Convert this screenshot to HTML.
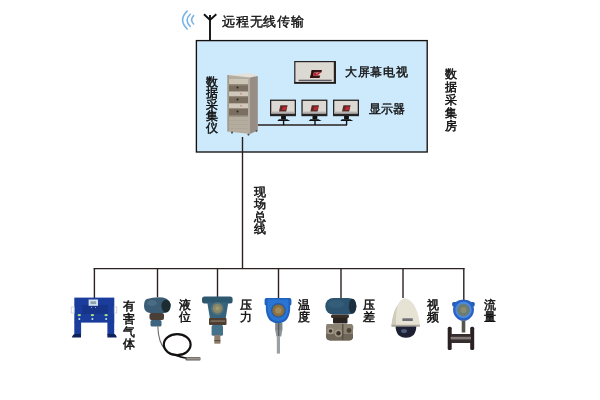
<!DOCTYPE html>
<html><head><meta charset="utf-8">
<style>
html,body{margin:0;padding:0;background:#fff;width:600px;height:400px;overflow:hidden}
body{position:relative;font-family:"Liberation Sans",sans-serif;color:#1a1a1a}
svg{position:absolute;left:0;top:0}
.t{position:absolute;font-size:13px;line-height:13px;white-space:nowrap;font-weight:500;-webkit-text-stroke:0.4px #111;color:#111;transform:translateZ(0)}
.v{position:absolute;font-size:12.3px;width:13px;word-break:break-all;white-space:normal;font-weight:500;-webkit-text-stroke:0.5px #111;color:#111;transform:translateZ(0)}
</style></head><body>
<svg width="600" height="400" viewBox="0 0 600 400">
  <!-- wifi arcs -->
  <g fill="none" stroke="#78b4e4" stroke-width="1.6" stroke-linecap="round">
    <path d="M187.2 11.2 Q178 20 187.2 29"/>
    <path d="M190.2 14.2 Q184 20.2 190.2 26.4"/>
    <path d="M193.6 15.6 Q189.6 19.8 193.6 24"/>
  </g>
  <!-- antenna -->
  <g fill="none" stroke="#111" stroke-width="1.9">
    <path d="M204 14.2 L210 20 L216.3 14.2"/>
    <path d="M210 15 L210 41"/>
  </g>
  <!-- box -->
  <rect x="196.4" y="40.6" width="230.8" height="111.4" fill="#cdeafc" stroke="#150f0f" stroke-width="1.35"/>
  <!-- main bus -->
  <g stroke="#2a2020" stroke-width="1.4" fill="none">
    <path d="M242.5 137 V268.5"/>
    <path d="M93.7 268.6 H464.5"/>
    <path d="M94.4 268 V298"/>
    <path d="M157.5 268 V297"/>
    <path d="M217.5 268 V297"/>
    <path d="M278.5 268 V298"/>
    <path d="M341 268 V299"/>
    <path d="M403 268 V298"/>
    <path d="M463.8 268 V300"/>
    <path d="M257.8 125 H347"/>
  </g>
  <!-- cabinet -->
  <g>
    <polygon points="227.5,75 250.4,73 257.8,76 250,77.5" fill="#e4e0da"/>
    <polygon points="227.5,75 250,77.5 250,134 227.5,131.5" fill="#b4ac9e"/>
    <polygon points="250,77.5 257.8,76 257.8,130.5 250,134" fill="#978d84"/>
    <rect x="227.5" y="75" width="1.2" height="56.5" fill="#9a9286"/>
    <rect x="229" y="79" width="19" height="5.4" fill="#ccc4b4"/>
    <rect x="229" y="84.4" width="19" height="7.2" fill="#7a6e60"/>
    <rect x="229" y="84.4" width="19" height="1" fill="#9a8e80"/>
    <rect x="229" y="91.6" width="19" height="4.6" fill="#d0c8bc"/>
    <rect x="229" y="96.2" width="19" height="7.3" fill="#7a6e60"/>
    <rect x="229" y="96.2" width="19" height="1" fill="#9a8e80"/>
    <rect x="229" y="103.5" width="19" height="4.5" fill="#d0c8bc"/>
    <rect x="229" y="108" width="19" height="7.6" fill="#7a6e60"/>
    <rect x="229" y="108" width="19" height="1" fill="#9a8e80"/>
    <rect x="229" y="116" width="19" height="0.8" fill="#9a9084"/>
    <circle cx="237.5" cy="87.5" r="1" fill="#2a221c"/>
    <circle cx="237.5" cy="99.5" r="1" fill="#2a221c"/>
    <circle cx="237.5" cy="111.5" r="1" fill="#2a221c"/>
    <circle cx="241" cy="93.8" r="0.7" fill="#c86060"/>
    <circle cx="241" cy="105.8" r="0.7" fill="#c86060"/>
    <rect x="229" y="120" width="19" height="0.6" fill="#a8a092"/>
    <rect x="229" y="124" width="19" height="0.6" fill="#a8a092"/>
    <rect x="229" y="128" width="19" height="0.6" fill="#a8a092"/>
    <circle cx="232" cy="132.6" r="1.1" fill="#5a524a"/>
    <circle cx="248.5" cy="134.6" r="1.1" fill="#5a524a"/>
    <circle cx="256.5" cy="131" r="0.9" fill="#5a524a"/>
  </g>
  <!-- big TV -->
  <g>
    <rect x="294.2" y="61" width="41.8" height="22.6" fill="#262222"/>
    <rect x="295.4" y="62.2" width="38.4" height="19.8" fill="#dcd8d2"/>
    <rect x="294.2" y="82" width="41.8" height="1.6" fill="#1e1a1a"/>
    <rect x="298.7" y="79.7" width="33" height="1.5" fill="#5c5a64"/>
    <polygon points="311.8,70 322,70 321.4,72.6 311.2,72.6" fill="#3a1616"/>
    <polygon points="310.6,75.6 320.2,75.6 319.6,78 310,78" fill="#3a1616"/>
    <polygon points="311.8,70 314.4,70 312.6,78 310,78" fill="#2a1010"/>
    <polygon points="318.6,72.6 321.2,72.6 317.2,75.6 314.6,75.6" fill="#d01828"/>
    <polygon points="313.6,72.6 316.6,72.6 316,75.6 313,75.6" fill="#b82030"/>
  </g>
  <!-- monitors -->
  <g id="mon">
    <rect x="270" y="99.6" width="26" height="16.6" fill="#262424"/>
    <rect x="271.3" y="100.9" width="23.4" height="12.6" fill="#dcd9d4"/>
    <rect x="271.3" y="111.6" width="23.4" height="1.9" fill="#b4b2b0"/>
    <polygon points="280.4,105.3 287.6,105.3 286.2,111.6 279,111.6" fill="#5a2a26"/>
    <polygon points="283,106.8 287,106.8 285.6,110 281.8,110" fill="#c02632"/>
    <rect x="281.1" y="116" width="4.8" height="3.4" fill="#111"/>
    <polygon points="278.9,119.2 287.1,119.2 290.3,121 277.3,121" fill="#111"/>
    <rect x="282.9" y="120.5" width="1.4" height="4.5" fill="#111"/>
  </g>
  <use href="#mon" x="31.4"/>
  <use href="#mon" x="63"/>

  <!-- gas detector -->
  <g>
    <rect x="74.3" y="297.6" width="40" height="25" fill="#1a3c9c"/>
    <rect x="82" y="305" width="26" height="9" fill="#163488"/>
    <rect x="74.3" y="322" width="6.8" height="13" fill="#1a3c9c"/>
    <rect x="107.4" y="322" width="6.8" height="13" fill="#1a3c9c"/>
    <path d="M71.8 337.6 Q73 334 75 334 L81 334 L81 337.6Z" fill="#0f2258"/>
    <path d="M107.4 337.6 L107.4 334 L114 334 Q116 334 116.8 337.6Z" fill="#0f2258"/>
    <rect x="88.6" y="299.5" width="9.4" height="6.3" fill="#d4e2ea"/>
    <rect x="90.5" y="301.3" width="5.6" height="2.8" fill="#8aa0ac"/>
    <rect x="91" y="307" width="1" height="1" fill="#9ab"/>
    <rect x="95" y="307" width="1" height="1" fill="#9ab"/>
    <ellipse cx="79.3" cy="315.1" rx="1.7" ry="1.2" fill="#a8e080"/>
    <ellipse cx="92.4" cy="315.1" rx="1.7" ry="1.2" fill="#a8e080"/>
    <ellipse cx="106.1" cy="315.1" rx="1.7" ry="1.2" fill="#a8e080"/>
    <circle cx="79.3" cy="318.9" r="1" fill="#bfe6f0"/>
    <circle cx="92.4" cy="318.9" r="1" fill="#bfe6f0"/>
    <circle cx="106.1" cy="318.9" r="1" fill="#bfe6f0"/>
    <rect x="71.2" y="307" width="3" height="6" fill="none" stroke="#c8ccd4" stroke-width="0.8"/>
    <rect x="114.3" y="307" width="2.5" height="6" fill="none" stroke="#c8ccd4" stroke-width="0.8"/>
  </g>
  <!-- level transmitter -->
  <g>
    <path d="M147 299 Q155 296.5 163 297.5 L166 298.5 Q171 301 170.5 306 Q170 312 165 313 L150 313 Q144 312 144 306 Q144 300 147 299Z" fill="#3a5c74"/>
    <ellipse cx="166" cy="306" rx="4.6" ry="6.3" fill="#1c2c30"/>
    <ellipse cx="152" cy="303" rx="5" ry="3" fill="#4a6c84"/>
    <rect x="149.5" y="313" width="14.5" height="7" rx="2" fill="#4a3e36"/>
    <rect x="150.5" y="320" width="11" height="6.5" rx="1.5" fill="#3e6480"/>
    <path d="M157.8 326.5 Q158.5 343 165 349" fill="none" stroke="#6a6a6a" stroke-width="1.1"/>
    <ellipse cx="177.2" cy="344.6" rx="13.4" ry="10.5" fill="none" stroke="#141010" stroke-width="2.2"/>
    <path d="M175 355 Q181 357.5 187 358.3" fill="none" stroke="#111" stroke-width="1.6"/>
    <rect x="185.5" y="357" width="15" height="3.4" rx="1" fill="#5e5a56"/>
    <rect x="187" y="357.6" width="13" height="2" fill="#9a9692"/>
  </g>
  <!-- pressure transmitter -->
  <g>
    <rect x="202" y="296.4" width="30.6" height="7" rx="2.5" fill="#2e5870"/>
    <polygon points="207.3,302.5 228.3,302.5 225.6,319 210,319" fill="#36647e"/>
    <circle cx="217.4" cy="308.6" r="6.3" fill="#5a7478"/>
    <circle cx="217.4" cy="308.6" r="4.6" fill="#8c8866"/>
    <circle cx="217.4" cy="308.6" r="2" fill="#a09c78"/>
    <rect x="209" y="318" width="17.5" height="7" rx="1" fill="#4e3e32"/>
    <rect x="210.5" y="320.3" width="14.5" height="1.6" fill="#7e6e5a"/>
    <rect x="211.6" y="325" width="11.4" height="10.8" rx="1.5" fill="#44728a"/>
    <rect x="214.3" y="335" width="6.1" height="8.7" fill="#8e7e6c"/>
    <rect x="214.3" y="340" width="6.1" height="1.2" fill="#5e5044"/>
  </g>
  <!-- temperature -->
  <g>
    <path d="M266.3 298 H289.7 Q291.4 298 291.4 300 V304.5 L290.2 305.5 Q290.6 323.2 278 323.2 Q265.4 323.2 265.8 305.5 L264.6 304.5 V300 Q264.6 298 266.3 298Z" fill="#1f62bc"/>
    <path d="M267.5 299.5 H288.5 V305 Q288.8 321 278 321 Q267.2 321 267.5 305Z" fill="#2a74d4"/>
    <circle cx="278.4" cy="310.4" r="7.3" fill="#2a5a98"/>
    <circle cx="278.4" cy="310.4" r="6" fill="#8a7040"/>
    <circle cx="278.4" cy="310.4" r="3.2" fill="#a08a5a"/>
    <rect x="275.2" y="323" width="7.2" height="7" fill="#7e868a"/>
    <polygon points="275.2,330 282.4,330 281.2,336.5 276.4,336.5" fill="#8e9498"/>
    <rect x="278.2" y="323" width="1" height="13" fill="#4a4e52"/>
    <rect x="276.8" y="336" width="3.2" height="17.6" fill="#9aa0a6"/>
  </g>
  <!-- diff pressure -->
  <g>
    <rect x="325.3" y="298" width="31.1" height="16.5" rx="8" ry="8" fill="#2c5470"/>
    <ellipse cx="336" cy="304" rx="8" ry="4" fill="#3a6480" opacity="0.6"/>
    <ellipse cx="352.5" cy="306.2" rx="3.8" ry="7.5" fill="#1c3040"/>
    <rect x="331" y="314.5" width="18" height="3.5" rx="1.5" fill="#3a302a"/>
    <rect x="333" y="317.5" width="14.5" height="6" rx="1" fill="#2a2420"/>
    <path d="M327 324 L352 324 Q354 326 353 330 L353 338 Q352 340.5 349 340.5 L330 340.5 Q326 340 326 336 L326 327 Q326 324 327 324Z" fill="#8c8272"/>
    <path d="M326 334 L353 334 L353 338 Q352 340.5 349 340.5 L330 340.5 Q326 340 326 336Z" fill="#6e6658"/>
    <circle cx="330.5" cy="331" r="3.2" fill="#a49a88"/>
    <circle cx="330.5" cy="331" r="1.8" fill="#3e3830"/>
    <circle cx="338.5" cy="333.2" r="3.8" fill="#a09684"/>
    <circle cx="338.5" cy="333.2" r="2.2" fill="#3a342c"/>
    <circle cx="349" cy="330.5" r="2.4" fill="#4e4638"/>
    <rect x="342" y="324" width="1.5" height="16" fill="#5a5244"/>
  </g>
  <!-- camera -->
  <g>
    <path d="M404 298.3 C401.5 299.5 399.7 301 397.5 305 C395 309.5 393.4 313.5 392.6 318 C392 321 391.7 323 391.5 326.5 L420 326.5 C419.8 323 419.5 321 418.9 318 C418 313.5 416.5 309.5 414 305 C411 300.5 407.5 298.6 404 298.3Z" fill="#e6e2d4"/>
    <path d="M392.6 318 C393.4 313.5 395 309.5 397.5 305 C396.5 310 395.8 316 396 326.5 L391.5 326.5 C391.7 323 392 321 392.6 318Z" fill="#cfcbbd"/>
    <rect x="391.5" y="324.8" width="28.5" height="1.8" fill="#aaa69a"/>
    <rect x="402.4" y="318.3" width="10.4" height="2.7" fill="#6e6e74"/>
    <path d="M395.6 326.6 Q396 337.8 406 337.8 Q416 337.8 416.3 326.6Z" fill="#1c2032"/>
    <ellipse cx="404" cy="331" rx="3" ry="2" fill="#4a5a7a"/>
  </g>
  <!-- flow meter -->
  <g>
    <rect x="452.2" y="302" width="22.5" height="4.6" rx="1.5" fill="#2258b8"/>
    <path d="M453 309.5 Q453 299.4 463.5 299.4 Q474 299.4 474 309.5 Q474 317.5 466 320.7 H461 Q453 317.5 453 309.5Z" fill="#2a62c4"/>
    <circle cx="463.5" cy="310" r="8.2" fill="#4a8ce0"/>
    <circle cx="463.5" cy="310" r="6.3" fill="#6c7c74"/>
    <circle cx="463.5" cy="310" r="3" fill="#8a8c70"/>
    <rect x="461.7" y="320.5" width="3.6" height="12" fill="#56544c"/>
    <rect x="447.7" y="326.7" width="4" height="23.3" rx="1.5" fill="#2a2222"/>
    <rect x="470.2" y="326.7" width="4" height="23.3" rx="1.5" fill="#2a2222"/>
    <rect x="450.7" y="334" width="20.3" height="9" fill="#362e2e"/>
    <rect x="450.7" y="336.8" width="20.3" height="2.6" fill="#847a7a"/>
  </g>
</svg>

<div class="t" style="left:222px;top:15px;font-size:13px;letter-spacing:0.8px">远程无线传输</div>
<div class="t" style="left:345px;top:66px;font-size:12.4px;letter-spacing:0.7px">大屏幕电视</div>
<div class="t" style="left:369px;top:103px;font-size:12.2px">显示器</div>
<div class="v" style="left:206px;top:77px;line-height:11.4px">数据采集仪</div>
<div class="v" style="left:445px;top:68px;line-height:13px">数据采集房</div>
<div class="v" style="left:254px;top:185.5px;line-height:12.5px">现场总线</div>
<div class="v" style="left:123px;top:300px;line-height:12.8px">有害气体</div>
<div class="v" style="left:179px;top:299px;line-height:12px">液位</div>
<div class="v" style="left:240px;top:299px;line-height:12px">压力</div>
<div class="v" style="left:298px;top:299px;line-height:12px">温度</div>
<div class="v" style="left:362.5px;top:298.5px;line-height:12px">压差</div>
<div class="v" style="left:426.5px;top:298.5px;line-height:12px">视频</div>
<div class="v" style="left:484px;top:298.5px;line-height:12px">流量</div>
</body></html>
